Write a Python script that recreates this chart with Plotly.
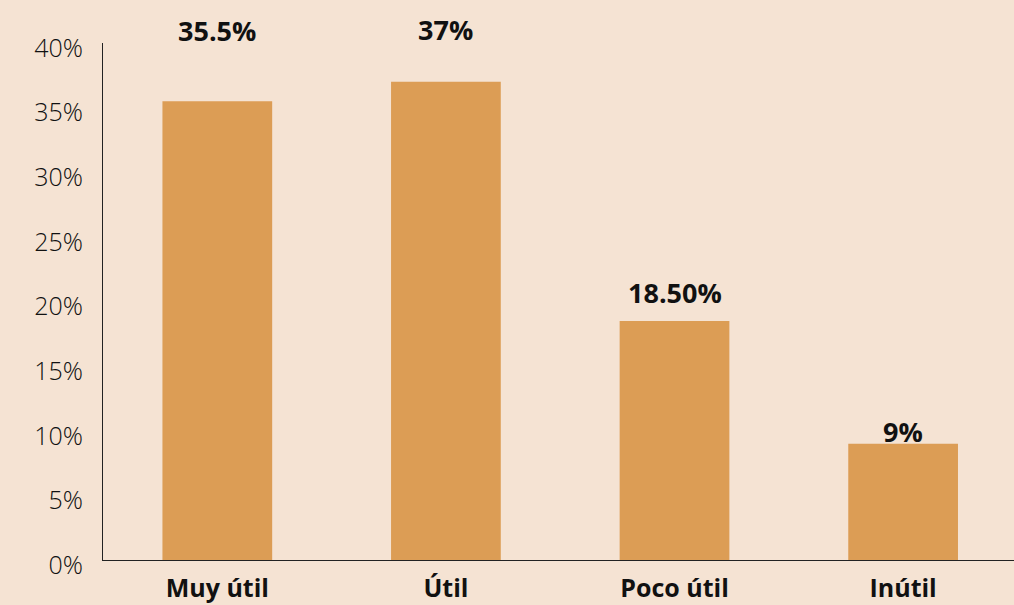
import plotly.graph_objects as go

categories = ["Muy útil", "Útil", "Poco útil", "Inútil"]
values = [35.5, 37, 18.5, 9]
value_labels = ["35.5%", "37%", "18.50%", "9%"]
y_ticks = [0, 5, 10, 15, 20, 25, 30, 35, 40]
y_tick_text = ["0%", "5%", "10%", "15%", "20%", "25%", "30%", "35%", "40%"]

# pixel offsets of the value labels above each bar (style)
label_shift = [71, 52, 28, 12]

BG = "#F5E3D3"
BAR = "#DC9D55"
FONT = "Open Sans"

fig = go.Figure(
    go.Bar(
        x=categories,
        y=values,
        marker=dict(color=BAR, line=dict(width=0)),
        width=0.48,
        hoverinfo="skip",
    )
)

for c, v, t, s in zip(categories, values, value_labels, label_shift):
    fig.add_annotation(
        x=c, y=v, xref="x", yref="y", text=f"<b>{t}</b>",
        showarrow=False, yshift=s, yanchor="middle",
        font=dict(family=FONT, size=27, color="#111111"),
    )

fig.update_layout(
    width=1014, height=605,
    paper_bgcolor=BG, plot_bgcolor=BG,
    margin=dict(l=103, r=0, t=43, b=45),
    showlegend=False,
    xaxis=dict(
        type="category",
        range=[-0.5, 3.485],
        showgrid=False, zeroline=False,
        showline=True, linecolor="#222222", linewidth=1,
        ticks="",
        ticklabelstandoff=6,
        tickfont=dict(family=FONT, size=25, color="#111111", weight="bold"),
    ),
    yaxis=dict(
        range=[0, 40],
        tickvals=y_ticks, ticktext=y_tick_text,
        showgrid=False, zeroline=False,
        showline=True, linecolor="#222222", linewidth=1,
        ticks="",
        ticklabelstandoff=14,
        ticklabelshift=5,
        tickfont=dict(family=FONT, size=25, color="#111111", weight=300),
    ),
)

fig.write_html(
    "out.html",
    config={"displayModeBar": False},
    post_script="document.body.style.margin='0';",
)
